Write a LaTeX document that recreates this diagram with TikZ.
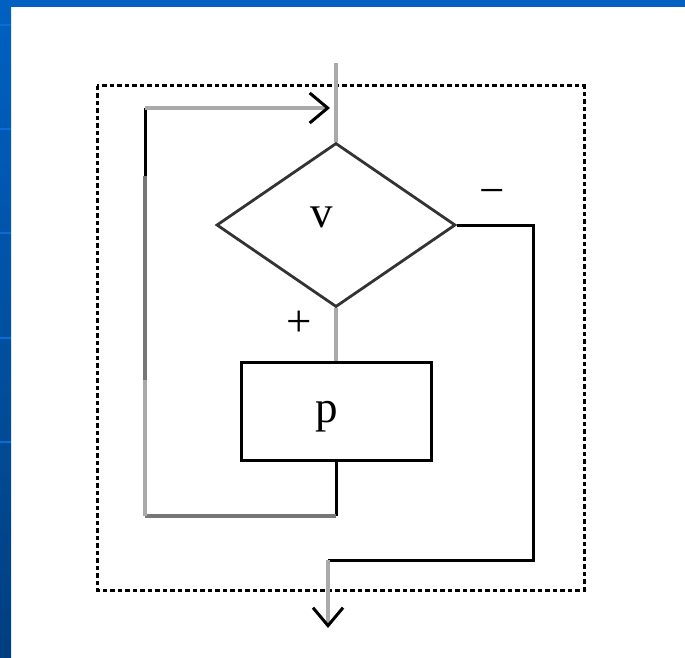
\documentclass[tikz,border=0pt]{standalone}
\usepackage{fontspec}
\setmainfont{Liberation Serif}
\usetikzlibrary{shapes.geometric,arrows.meta,calc}
\definecolor{slideblue}{HTML}{0061C2}
\definecolor{slidedark}{HTML}{003F80}
\definecolor{stripeblue}{HTML}{0A6CD4}
\definecolor{lightline}{HTML}{AAAAAA}
\definecolor{midline}{HTML}{777777}
\definecolor{diagline}{HTML}{333333}
\begin{document}
\begin{tikzpicture}[x=1pt,y=-1pt,
  lgray/.style={draw=lightline, line width=4.5pt},
  mgray/.style={draw=midline, line width=3.5pt},
  blk/.style={draw=black, line width=3pt},
  barb/.style={-{Straight Barb[length=18pt,width=30pt,line width=3pt,color=black]}},
  lbl/.style={font=\fontsize{45}{50}\selectfont, inner sep=0pt},
  frame/.style={draw=black, line width=3pt, dash pattern=on 4pt off 3pt on 5pt off 3pt}]
\useasboundingbox (0,0) rectangle (685,658);
\fill[white] (0,0) rectangle (685,658);
% slide border
\fill[slideblue] (0,0) rectangle (685,7);
\shade[top color=slideblue, bottom color=slidedark] (0,0) rectangle (11,658);
\foreach \yy in {25,129,233,338,442} \fill[stripeblue] (0,\yy-1) rectangle (11,\yy+1);
% dotted frame
\draw[frame] (97,86) rectangle (584,590);
% nodes
\node[diamond, draw=diagline, line width=2.8pt, minimum width=239pt, minimum height=164pt, inner sep=0pt] (d) at (336,225) {};
\node[draw=black, line width=3pt, minimum width=190pt, minimum height=98pt] (p) at (336,411) {};
\node[lbl, anchor=base] (vl) at (322,227) {v};
\node[lbl, anchor=base] (pl) at (327,422) {p};
\node[lbl, anchor=center] (plus) at (299,324) {+};
\node[lbl, anchor=center, line width=1pt] (minus) at (492,197) {−};
% coordinates
\coordinate (in) at (336,63);
\coordinate (lt) at (145,108);
\coordinate (l1) at (145,176);
\coordinate (l2) at (145,380);
\coordinate (lb) at (145,516);
\coordinate (tip) at (330,108);
\coordinate (rx) at (533,226);
\coordinate (ob) at (328,560);
\coordinate (out) at (328,628);
% connectors
\draw[lgray] (in) -- (d.north);
\draw[lgray] (d.south) -- (p.north);
\draw[blk] (p.south) -- (p.south |- lb);
\draw[mgray] (p.south |- lb) -- (lb);
\draw[lgray] (lb) -- (l2);
\draw[mgray] (l2) -- (l1);
\draw[blk] (l1) -- (lt);
\draw[lgray, barb] (lt) -- (tip);
\draw[blk, line join=miter] (d.east) -- (d.east -| rx) -- (rx |- ob) -- (ob);
\draw[lgray, barb] (ob) -- (out);
\end{tikzpicture}
\end{document}
